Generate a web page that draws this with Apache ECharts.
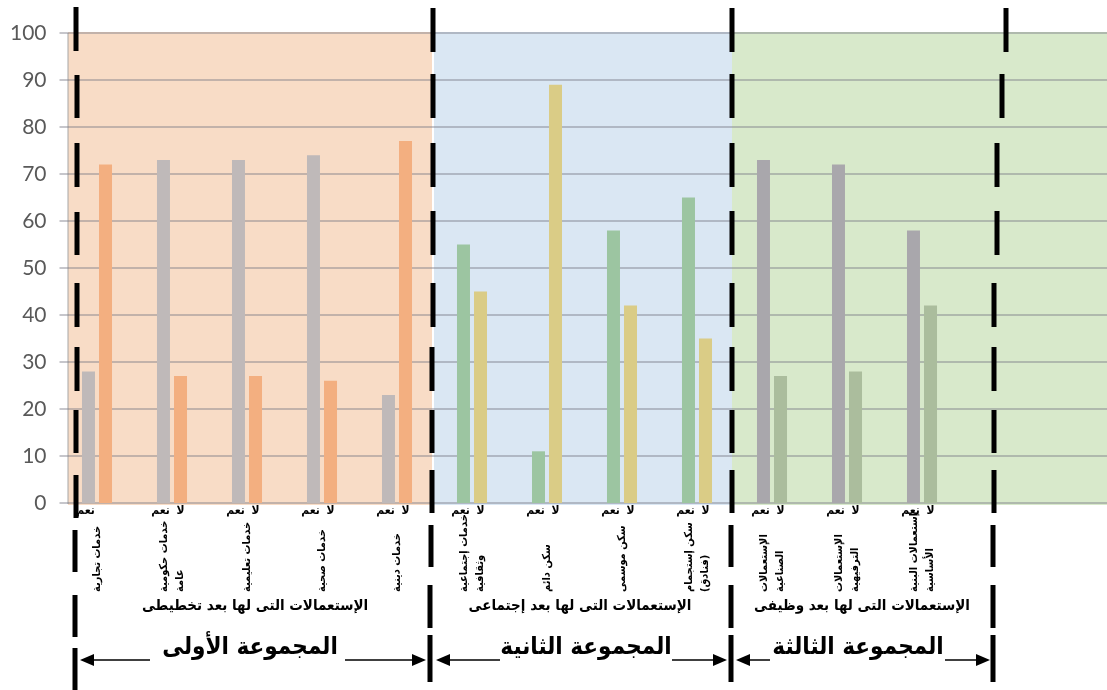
<!DOCTYPE html>
<html>
<head>
<meta charset="utf-8">
<script src="https://cdn.jsdelivr.net/npm/echarts@6/dist/echarts.min.js"></script>
<style>
html,body{margin:0;padding:0;background:#fff;}
#c{width:1107px;height:690px;}
</style>
</head>
<body>
<div id="c"></div>
<script>
// ---- data ----
const categories = ['خدمات تجارية','خدمات حكومية\nعامة','خدمات تعليمية','خدمات صحية','خدمات دينية',
  'خدمات إجتماعية\nوثقافية','سكن دائم','سكن موسمى','سكن إستجمام\n(فنادق)',
  'الإستعمالات\nالصناعية','الإستعمالات\nالترفيهية','إستعمالات البنية\nالأساسية',' ','  '];
const yesValues = [28,73,73,74,23,55,11,58,65,73,72,58,null,null];
const noValues  = [72,27,27,26,77,45,89,42,35,27,28,42,null,null];
const groupOfCategory = [0,0,0,0,0,1,1,1,1,2,2,2,2,2];
const seriesNames = ['نعم','لا'];
const groupTitles = ['الإستعمالات التى لها بعد تخطيطى','الإستعمالات التى لها بعد إجتماعى','الإستعمالات التى لها بعد وظيفى'];
const groupNames = ['المجموعة الأولى','المجموعة الثانية','المجموعة الثالثة'];
const yesColors = ['#BFB9B9','#9CC5A1','#A9A7AC'];
const noColors  = ['#F3AF80','#DACC86','#ABBD9D'];
const bgColors  = ['#F8DCC6','#DAE7F3','#D8E9CB'];
const hiddenNoLabel = [0];

const AR = "'DejaVu Sans Condensed','DejaVu Sans',sans-serif";

const chart = echarts.init(document.getElementById('c'), null, {renderer:'canvas'});

function items(vals, colors, hideIdx){
  return vals.map((v,i)=>{
    const it = {value:v, itemStyle:{color:colors[groupOfCategory[i]]}};
    if (hideIdx && hideIdx.indexOf(i)>=0) it.label = {show:false};
    return it;
  });
}

const barLabel = (offX)=>({
  show:true, position:'bottom', distance:2, offset:[offX,0],
  formatter:(p)=>p.seriesName, color:'#000', fontSize:12, fontWeight:'bold', fontFamily:AR
});

chart.setOption({
  animation:false,
  grid:{left:59.5, right:-2.5, top:33, bottom:187, containLabel:false, outerBoundsMode:'none'},
  xAxis:{
    type:'category', data:categories,
    axisLine:{show:false}, axisTick:{show:false}, splitLine:{show:false},
    axisLabel:{interval:0, rotate:90, align:'left', verticalAlign:'middle', margin:89,
      fontSize:11, fontWeight:'bold', fontFamily:AR, color:'#000', lineHeight:16}
  },
  yAxis:{
    type:'value', min:0, max:100, interval:10,
    axisLine:{show:false}, axisTick:{show:false},
    axisLabel:{fontSize:21, color:'#595959', fontFamily:'Lato, "Liberation Sans", sans-serif', margin:13},
    splitLine:{show:true, lineStyle:{color:'rgba(120,120,130,0.42)', width:2}}
  },
  series:[
    {name:seriesNames[0], type:'bar', barWidth:13, barGap:'31%',
      data:items(yesValues, yesColors), label:barLabel(-3)},
    {name:seriesNames[1], type:'bar', barWidth:13, barGap:'31%',
      data:items(noValues, noColors, hiddenNoLabel), label:barLabel(0)}
  ]
});

// ---- decorations (backgrounds, dashed separators, group titles, arrows) ----
const yTop = chart.convertToPixel({yAxisIndex:0}, 100);
const yBot = chart.convertToPixel({yAxisIndex:0}, 0);
const bgRanges = [[68,432],[434,732],[732,1107]];
const g = [];
bgRanges.forEach((r,i)=>{
  g.push({type:'rect', z:-5, silent:true, shape:{x:r[0], y:yTop-1, width:r[1]-r[0], height:yBot-yTop+3}, style:{fill:bgColors[i]}});
});
g.push({type:'line', z:-4, silent:true, shape:{x1:68,y1:yTop,x2:68,y2:yBot+1}, style:{stroke:'#A6A6A6', lineWidth:1}});

// dashed separator lines: segment y-ranges and an x for each segment
const segA = [[7,51],[75,118],[143,187],[212,255],[283,327],[347,391],[410,453],[475,518],[530,572],[595,637],[648,690]];
const segB = [[8,52],[74,118],[143,187],[211,255],[283,327],[347,391],[410,453],[470,513],[525,567],[585,628],[635,682]];
const sepLines = [
  {seg:segA, xs:[76,77,77,77,77,77,76,76,75,75,75]},
  {seg:segB, xs:[433,433,433,433,433,432,432,432,431,430,430]},
  {seg:segB, xs:[732,732,732,732,732,732,732,732,731,731,731]},
  {seg:segB, xs:[1006,1002,997,997,994,994,994,994,993,993,993]}
];
sepLines.forEach(l=>{
  l.seg.forEach((s,k)=>{
    g.push({type:'line', z:50, silent:true, shape:{x1:l.xs[k], y1:s[0], x2:l.xs[k], y2:s[1]}, style:{stroke:'#000', lineWidth:5}});
  });
});

// group titles
const titleX = [255, 580, 862];
groupTitles.forEach((t,i)=>{
  g.push({type:'text', z:50, silent:true, x:titleX[i], y:606,
    style:{text:t, align:'center', verticalAlign:'middle', fill:'#000', fontSize:15, fontWeight:'bold', fontFamily:AR}});
});

// group arrows
const arrowY = 660;
const arrows = [
  {l:80, r:426, tl:150, tr:345, cx:250},
  {l:436, r:727, tl:500, tr:672, cx:586},
  {l:736, r:990, tl:770, tr:945, cx:858}
];
arrows.forEach((a,i)=>{
  g.push({type:'line', z:50, silent:true, shape:{x1:a.l+12, y1:arrowY, x2:a.tl, y2:arrowY}, style:{stroke:'#000', lineWidth:1.5}});
  g.push({type:'line', z:50, silent:true, shape:{x1:a.tr, y1:arrowY, x2:a.r-12, y2:arrowY}, style:{stroke:'#000', lineWidth:1.5}});
  g.push({type:'polygon', z:50, silent:true, shape:{points:[[a.l,arrowY],[a.l+14,arrowY-6],[a.l+14,arrowY+6]]}, style:{fill:'#000'}});
  g.push({type:'polygon', z:50, silent:true, shape:{points:[[a.r,arrowY],[a.r-14,arrowY-6],[a.r-14,arrowY+6]]}, style:{fill:'#000'}});
  g.push({type:'text', z:50, silent:true, x:a.cx, y:648,
    style:{text:groupNames[i], align:'center', verticalAlign:'middle', fill:'#000', fontSize:24, fontWeight:'bold', fontFamily:AR}});
});

chart.setOption({graphic:{elements:g}});
</script>
</body>
</html>
